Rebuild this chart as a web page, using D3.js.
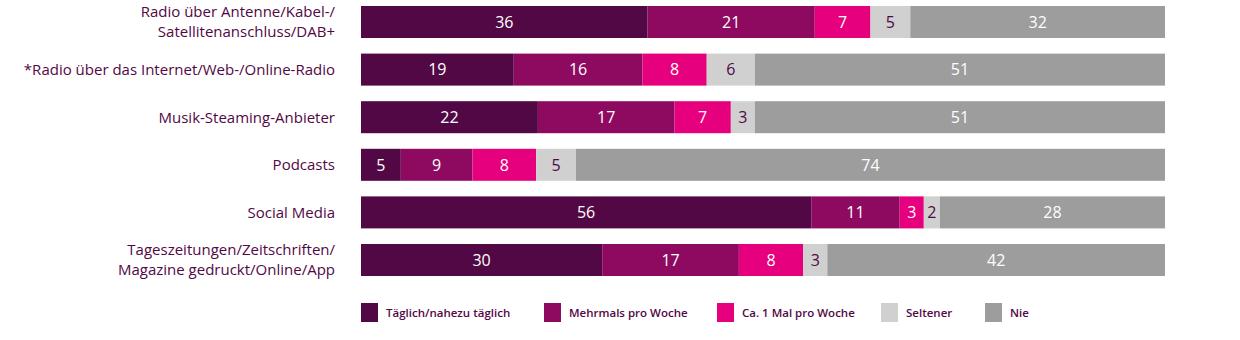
<!DOCTYPE html>
<html><head><meta charset="utf-8">
<script src="https://cdn.jsdelivr.net/npm/d3@7"></script>
<style>body{margin:0;background:#fff}svg{display:block}text{font-family:"Open Sans",sans-serif}</style>
</head><body><svg id="c" width="1240" height="340"></svg>
<script>
const categories = [
  ["Radio über Antenne/Kabel-/","Satellitenanschluss/DAB+"],
  ["*Radio über das Internet/Web-/Online-Radio"],
  ["Musik-Steaming-Anbieter"],
  ["Podcasts"],
  ["Social Media"],
  ["Tageszeitungen/Zeitschriften/","Magazine gedruckt/Online/App"]
];
const seriesNames = ["Täglich/nahezu täglich","Mehrmals pro Woche","Ca. 1 Mal pro Woche","Seltener","Nie"];
const taeglich  = [36,19,22,5,56,30];
const mehrmals  = [21,16,17,9,11,17];
const einmal    = [7,8,7,8,3,8];
const seltener  = [5,6,3,5,2,3];
const nie       = [32,51,51,74,28,42];
const series = [taeglich, mehrmals, einmal, seltener, nie];
const colors = ["#520845","#8e0a60","#e6007e","#d0d0d0","#9d9d9d"];
const textColors = ["#fff","#fff","#fff","#520845","#fff"];

const svg = d3.select("#c");
const x0 = 361, x1 = 1165;
const bh = 32, pitch = 47.6;
const rowY = i => 6 + i*pitch;

categories.forEach((cat, i) => {
  const vals = series.map(s => s[i]);
  const total = d3.sum(vals);
  const x = d3.scaleLinear().domain([0,total]).range([x0,x1]);
  let acc = 0;
  const g = svg.append("g");
  vals.forEach((v, k) => {
    const a = acc; acc += v;
    g.append("rect").attr("x", x(a)).attr("y", rowY(i)).attr("width", x(acc)-x(a)).attr("height", bh).attr("fill", colors[k]);
    g.append("text").attr("x", (x(a)+x(acc))/2).attr("y", rowY(i)+bh/2).attr("dy","0.36em")
      .attr("text-anchor","middle").attr("fill", textColors[k]).attr("font-size",16).attr("font-weight",500).text(v);
  });
  const t = svg.append("text").attr("x", 335).attr("text-anchor","end").attr("fill","#520845").attr("font-size",15).attr("font-weight",500);
  const n = cat.length;
  cat.forEach((line, j) => {
    t.append("tspan").attr("x",335).attr("y", rowY(i)+bh/2 + (j-(n-1)/2)*20).attr("dy","0.36em").text(line);
  });
});

const legX = [361,544,717,881,985];
const lg = svg.append("g");
seriesNames.forEach((n,k) => {
  lg.append("rect").attr("x",legX[k]).attr("y",303).attr("width",17).attr("height",19).attr("fill",colors[k]);
  lg.append("text").attr("x",legX[k]+25).attr("y",313).attr("dy","0.36em").attr("fill","#520845").attr("font-size",11.5).attr("font-weight",600).text(n);
});
</script></body></html>
